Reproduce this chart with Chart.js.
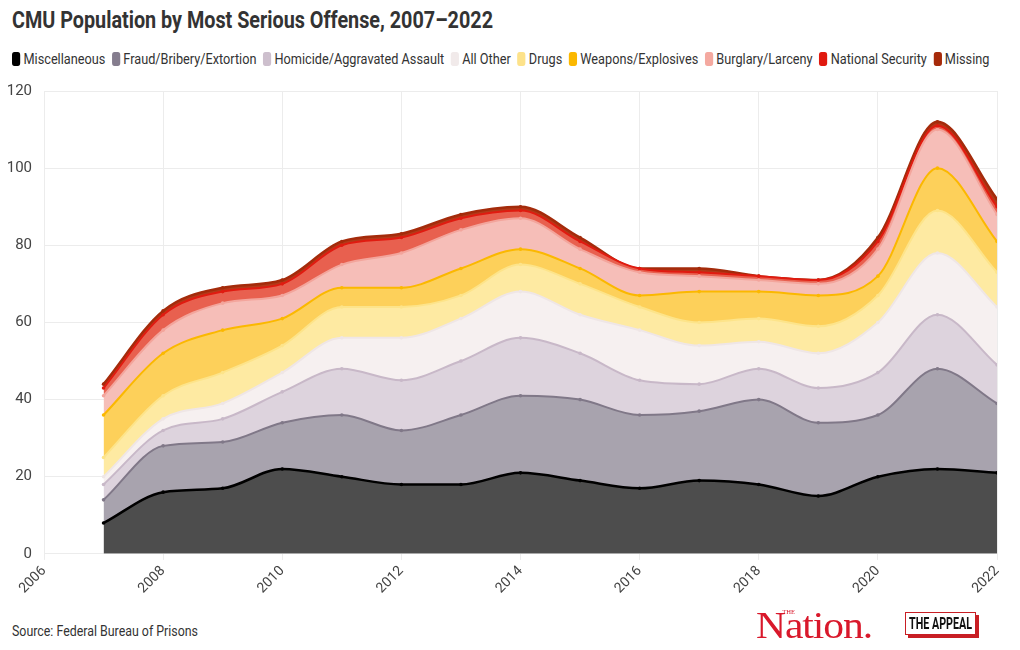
<!DOCTYPE html>
<html>
<head>
<meta charset="utf-8">
<script src="https://cdn.jsdelivr.net/npm/chart.js@4/dist/chart.umd.min.js"></script>
<style>
  body { margin: 0; background: #fff; width: 1020px; height: 650px; position: relative; overflow: hidden;
         font-family: Roboto, "DejaVu Sans Condensed", sans-serif; color: #333; }
  .ajustar { position: absolute; white-space: nowrap; transform-origin: 0 0; }
  #title { left: 12px; top: 6px; font-size: 24px; font-weight: bold; color: #333; }
  #legend { left: 12px; top: 50px; font-size: 15.5px; color: #333; display: flex; align-items: center; }
  #legend .item { display: flex; align-items: center; margin-right: 8px; }
  #legend .caja { width: 10px; height: 14px; border-radius: 3px; margin-right: 4px; }
  #wrap { position: absolute; left: 0; top: 70px; width: 1020px; height: 534px; }
  #source { left: 12px; top: 623px; font-size: 14px; color: #333; }
  #nation { left: 756px; top: 603px; font-family: "Liberation Serif", serif; font-size: 38px;
            color: #d9182b; letter-spacing: -1px; }
  #nation small { position: absolute; left: 24px; top: 6px; font-size: 6px; letter-spacing: 0; }
  #appeal { position: absolute; left: 905px; top: 612px; width: 69px; height: 21px; border: 1.5px solid #c81e24;
            box-shadow: 3px 3px 0 #c81e24; background: #fff; overflow: hidden; }
  #appeal span { left: 3px; top: 0; font-weight: bold; font-size: 17px; line-height: 21px; color: #111; }
</style>
</head>
<body>
<div id="title" class="ajustar">CMU Population by Most Serious Offense, 2007–2022</div>
<div id="legend" class="ajustar"></div>
<div id="wrap"><canvas id="myChart"></canvas></div>
<div id="source" class="ajustar">Source: Federal Bureau of Prisons</div>
<div id="nation" class="ajustar"><small>THE</small>Nation.</div>
<div id="appeal"><span class="ajustar">THE APPEAL</span></div>
<script>
// Años y valores por categoría (no acumulados)
const anios = [2007, 2008, 2009, 2010, 2011, 2012, 2013, 2014, 2015, 2016, 2017, 2018, 2019, 2020, 2021, 2022];
const miscelaneo = [8, 16, 17, 22, 20, 18, 18, 21, 19, 17, 19, 18, 15, 20, 22, 21];
const fraude = [6, 12, 12, 12, 16, 14, 18, 20, 21, 19, 18, 22, 19, 16, 26, 18];
const homicidio = [4, 4, 6, 8, 12, 13, 14, 15, 12, 9, 7, 8, 9, 11, 14, 10];
const otros = [2, 3, 4, 5, 8, 11, 11, 12, 10, 13, 10, 7, 9, 13, 16, 15];
const drogas = [5, 6, 8, 7, 8, 8, 6, 7, 8, 6, 6, 6, 7, 7, 11, 9];
const armas = [11, 11, 11, 7, 5, 5, 7, 4, 4, 3, 8, 7, 8, 5, 11, 8];
const robo = [5, 6, 7, 6, 6, 9, 10, 8, 5, 6, 4, 3, 3, 7, 10, 7];
const seguridad = [2, 4, 3, 3, 5, 4, 3, 2, 2, 1, 1, 1, 1, 2, 1, 2];
const faltantes = [1, 1, 1, 1, 1, 1, 1, 1, 1, 0, 1, 0, 0, 1, 1, 2];
const ticksY = [0, 20, 40, 60, 80, 100, 120];

const series = [
    { nombre: 'Miscellaneous', valores: miscelaneo, linea: '#000000', relleno: '#4d4d4d', caja: '#000000', ancho: 2.5 },
    { nombre: 'Fraud/Bribery/Extortion', valores: fraude, linea: '#807888', relleno: '#a8a3ae', caja: '#857d8e', ancho: 2 },
    { nombre: 'Homicide/Aggravated Assault', valores: homicidio, linea: '#c8b8c8', relleno: '#ddd3dd', caja: '#cdbfcd', ancho: 2 },
    { nombre: 'All Other', valores: otros, linea: '#efe6e6', relleno: '#f6f0f0', caja: '#f1eaea', ancho: 2 },
    { nombre: 'Drugs', valores: drogas, linea: '#fde48a', relleno: '#feeaa2', caja: '#fde28a', ancho: 2 },
    { nombre: 'Weapons/Explosives', valores: armas, linea: '#fbb800', relleno: '#fdd05a', caja: '#fbb800', ancho: 2 },
    { nombre: 'Burglary/Larceny', valores: robo, linea: '#f3a59c', relleno: '#f6beb8', caja: '#f4a9a0', ancho: 2 },
    { nombre: 'National Security', valores: seguridad, linea: '#e01b10', relleno: '#e8604f', caja: '#e0190f', ancho: 2 },
    { nombre: 'Missing', valores: faltantes, linea: '#a42b0b', relleno: '#b23a19', caja: '#a62a0a', ancho: 2.5 }
];

const fuente = 'Roboto, "DejaVu Sans Condensed", sans-serif';

// Leyenda en HTML
document.getElementById('legend').innerHTML = series.map(s =>
    `<div class="item"><div class="caja" style="background:${s.caja}"></div>${s.nombre}</div>`
).join('');

// Comprimir textos a lo ancho (fuente condensada)
function ajustarAncho(id, ancho) {
    const el = document.getElementById(id) || document.querySelector(id);
    const w = el.getBoundingClientRect().width;
    el.style.transform = `scaleX(${ancho / w})`;
}
ajustarAncho('title', 481);
ajustarAncho('legend', 984);
ajustarAncho('source', 186);
ajustarAncho('nation', 116);
ajustarAncho('#appeal span', 63);

const datasets = series.map((s, i) => ({
    label: s.nombre,
    data: anios.map((a, j) => ({ x: a, y: s.valores[j] })),
    borderColor: s.linea,
    backgroundColor: s.relleno,
    borderWidth: s.ancho,
    fill: i === 0 ? 'origin' : '-1',
    cubicInterpolationMode: 'monotone',
    pointRadius: 1.8,
    pointBackgroundColor: s.linea,
    pointBorderWidth: 0
}));

new Chart(document.getElementById('myChart'), {
    type: 'line',
    data: { datasets: datasets },
    options: {
        responsive: true,
        maintainAspectRatio: false,
        animation: false,
        layout: { padding: { left: 6, right: 23, top: 4, bottom: 4 } },
        plugins: {
            tooltip: { enabled: false },
            legend: { display: false }
        },
        scales: {
            x: {
                type: 'linear',
                min: 2006,
                max: 2022,
                ticks: {
                    stepSize: 2,
                    minRotation: 45,
                    maxRotation: 45,
                    color: '#444',
                    font: { family: fuente, size: 14 },
                    callback: v => String(v)
                },
                grid: { color: '#ececec', tickLength: 6 },
                border: { display: false }
            },
            y: {
                stacked: true,
                min: 0,
                max: 120,
                afterBuildTicks: scale => { scale.ticks = ticksY.map(v => ({ value: v })); },
                afterFit: scale => { scale.width = 38; },
                ticks: {
                    padding: 12,
                    color: '#444',
                    font: { family: fuente, size: 15 }
                },
                grid: { color: '#ececec', drawTicks: false },
                border: { display: false }
            }
        }
    }
});
</script>
</body>
</html>
